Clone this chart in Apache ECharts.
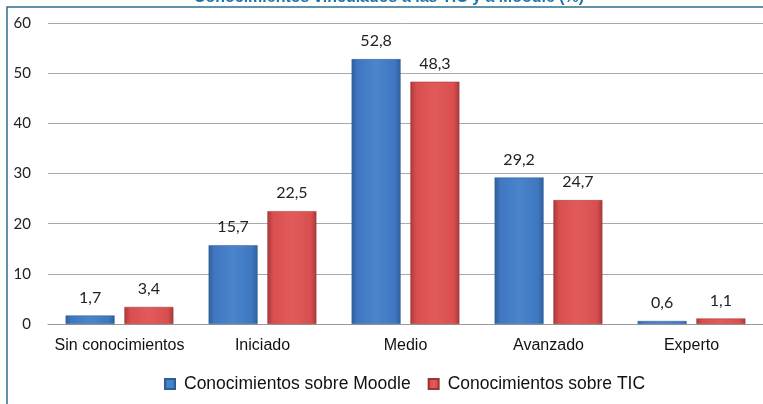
<!DOCTYPE html>
<html><head><meta charset="utf-8">
<script src="https://cdn.jsdelivr.net/npm/echarts@6/dist/echarts.min.js"></script>
<style>html,body{margin:0;padding:0;background:#fff}#c{width:763px;height:404px}</style>
</head><body><div id="c"></div>
<script>
const categories = ['Sin conocimientos','Iniciado','Medio','Avanzado','Experto'];
const moodle = [1.7, 15.7, 52.8, 29.2, 0.6];
const tic = [3.4, 22.5, 48.3, 24.7, 1.1];
const yTicks = [0,10,20,30,40,50,60];
const seriesNames = ['Conocimientos sobre Moodle','Conocimientos sobre TIC'];
const titleText = 'Conocimientos vinculados a las TIC y a Moodle (%)';

function grad(edge, mid, light){
  return new echarts.graphic.LinearGradient(0,0,1,0,[
    {offset:0,color:edge},{offset:0.12,color:mid},{offset:0.5,color:light},{offset:0.88,color:mid},{offset:1,color:edge}]);
}
const blueFill = grad('#2f5f9c','#3f78c0','#4a84cc');
const redFill = grad('#a83a3a','#d94f4f','#e25a5a');
const fmt = p => String(p.value).replace('.', ',');
const sans = '"Liberation Sans", Arial, sans-serif';
const calib = 'Lato, "Open Sans", sans-serif';

const chart = echarts.init(document.getElementById('c'));
chart.setOption({
  animation:false,
  graphic:[
    {type:'rect', shape:{x:7,y:7,width:800,height:500}, style:{fill:'none',stroke:'#2f6f8f',lineWidth:1.5}, z:0},
    {type:'text', x:389, y:6, style:{text:titleText, font:'bold 16px "Liberation Sans", Arial', fill:'#1f76a6', textAlign:'center', textVerticalAlign:'bottom'}, z:10}
  ],
  grid:{left:48, right:-3, top:23, bottom:80},
  legend:{
    data:seriesNames, bottom:6, left:159, itemWidth:10, itemHeight:10, itemGap:17,
    textStyle:{fontFamily:sans, fontSize:17.5, color:'#111', padding:[0,0,0,4]},
    icon:'rect'
  },
  xAxis:{type:'category', data:categories,
    axisLine:{lineStyle:{color:'#999'}}, axisTick:{show:false},
    axisLabel:{interval:0, fontFamily:sans, fontSize:16, color:'#111', margin:14}},
  yAxis:{type:'value', min:0, max:60, interval:10,
    axisLine:{show:false}, axisTick:{show:false},
    splitLine:{lineStyle:{color:'#a8a8a8'}},
    axisLabel:{fontFamily:calib, fontSize:15, color:'#222', margin:17}},
  series:[
    {name:seriesNames[0], type:'bar', data:moodle, barWidth:49, barGap:'20%',
      itemStyle:{color:blueFill, borderColor:'#2e5c96', borderWidth:0.5},
      label:{show:true, position:'top', distance:10, formatter:fmt, fontFamily:calib, fontSize:16, color:'#222'}},
    {name:seriesNames[1], type:'bar', data:tic, barWidth:49,
      itemStyle:{color:redFill, borderColor:'#9a3333', borderWidth:0.5},
      label:{show:true, position:'top', distance:10, formatter:fmt, fontFamily:calib, fontSize:16, color:'#222'}}
  ],
  color:['#3f78c0','#d94f4f']
});
</script></body></html>
